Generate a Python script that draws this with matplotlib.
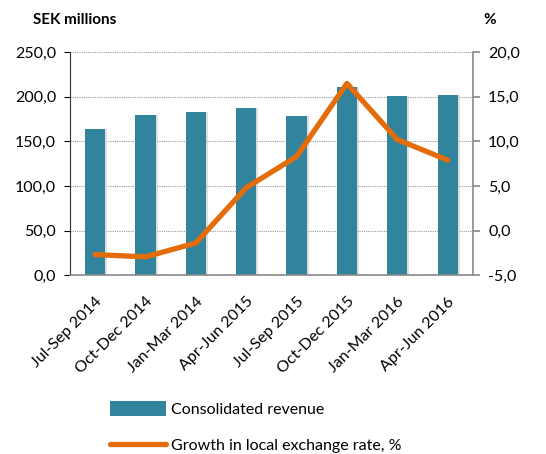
import matplotlib.pyplot as plt
import numpy as np

plt.rcParams['font.family'] = ['Lato', 'DejaVu Sans']

quarters = ["Jul-Sep 2014", "Oct-Dec 2014", "Jan-Mar 2014", "Apr-Jun 2015",
            "Jul-Sep 2015", "Oct-Dec 2015", "Jan-Mar 2016", "Apr-Jun 2016"]
revenue = [163.5, 179.5, 182.5, 187.0, 178.0, 210.5, 200.5, 202.0]
growth = [-2.7, -2.95, -1.4, 4.8, 8.3, 16.5, 10.2, 7.9]

bar_color = "#31849b"
line_color = "#e46c0a"

fig = plt.figure(figsize=(5.46, 4.54), dpi=100)
ax = fig.add_axes([0.128, 0.394, 0.738, 0.491])
ax2 = ax.twinx()

x = np.arange(len(quarters))
# soft shadow behind bars
ax.bar(x + 0.04, revenue, width=0.4, color="#c8c8c8", alpha=0.6, zorder=2)
bars = ax.bar(x, revenue, width=0.4, color=bar_color, zorder=3,
              label="Consolidated revenue")
line, = ax2.plot(x, growth, color=line_color, lw=3.8, solid_capstyle="round",
                 label="Growth in local exchange rate, %", zorder=4)

ax.set_xlim(-0.5, len(quarters) - 0.5)
ax.set_ylim(0, 250)
ax2.set_ylim(-5, 20)
ax.set_yticks(np.arange(0, 251, 50))
ax2.set_yticks(np.arange(-5, 21, 5))
ax.set_yticklabels([f"{v:.1f}".replace(".", ",") for v in np.arange(0, 251, 50)])
ax2.set_yticklabels([f"{v:.1f}".replace(".", ",") for v in np.arange(-5, 21, 5)])

ax.yaxis.grid(True, color="#999999", linestyle=(0, (1, 1)), lw=0.8)
ax.set_axisbelow(True)

ax.set_xticks(x)
ax.set_xticklabels(quarters, rotation=45, ha="right", rotation_mode="anchor")
ax.tick_params(axis="x", length=0, pad=14, labelsize=11.5)
ax.tick_params(axis="y", length=4, width=0.8, labelsize=11.5, pad=6)
ax2.tick_params(axis="y", length=5, width=1.2, color="#888888", labelsize=11.5, pad=6)

for s in ["top"]:
    ax.spines[s].set_visible(False)
    ax2.spines[s].set_visible(False)
ax.spines["left"].set_linestyle((0, (1, 1)))
ax.spines["left"].set_color("#333333")
ax2.spines["left"].set_visible(False)
ax.spines["right"].set_visible(False)
ax2.spines["right"].set_color("#888888")
ax2.spines["right"].set_linewidth(1.2)
ax2.spines["bottom"].set_color("#888888")
ax2.spines["bottom"].set_linewidth(1.2)
ax.spines["bottom"].set_visible(False)

fig.text(0.06, 0.955, "SEK millions", fontsize=11, fontweight="bold", va="center")
fig.text(0.885, 0.955, "%", fontsize=11, fontweight="bold", va="center")

fig.legend([bars, line], ["Consolidated revenue", "Growth in local exchange rate, %"],
           loc="upper left", bbox_to_anchor=(0.19, 0.13), frameon=False,
           fontsize=11.5, handlelength=3.5, handleheight=1.0, handletextpad=0.3,
           labelspacing=1.3, borderaxespad=0)

fig.savefig("out.png", dpi=100)
